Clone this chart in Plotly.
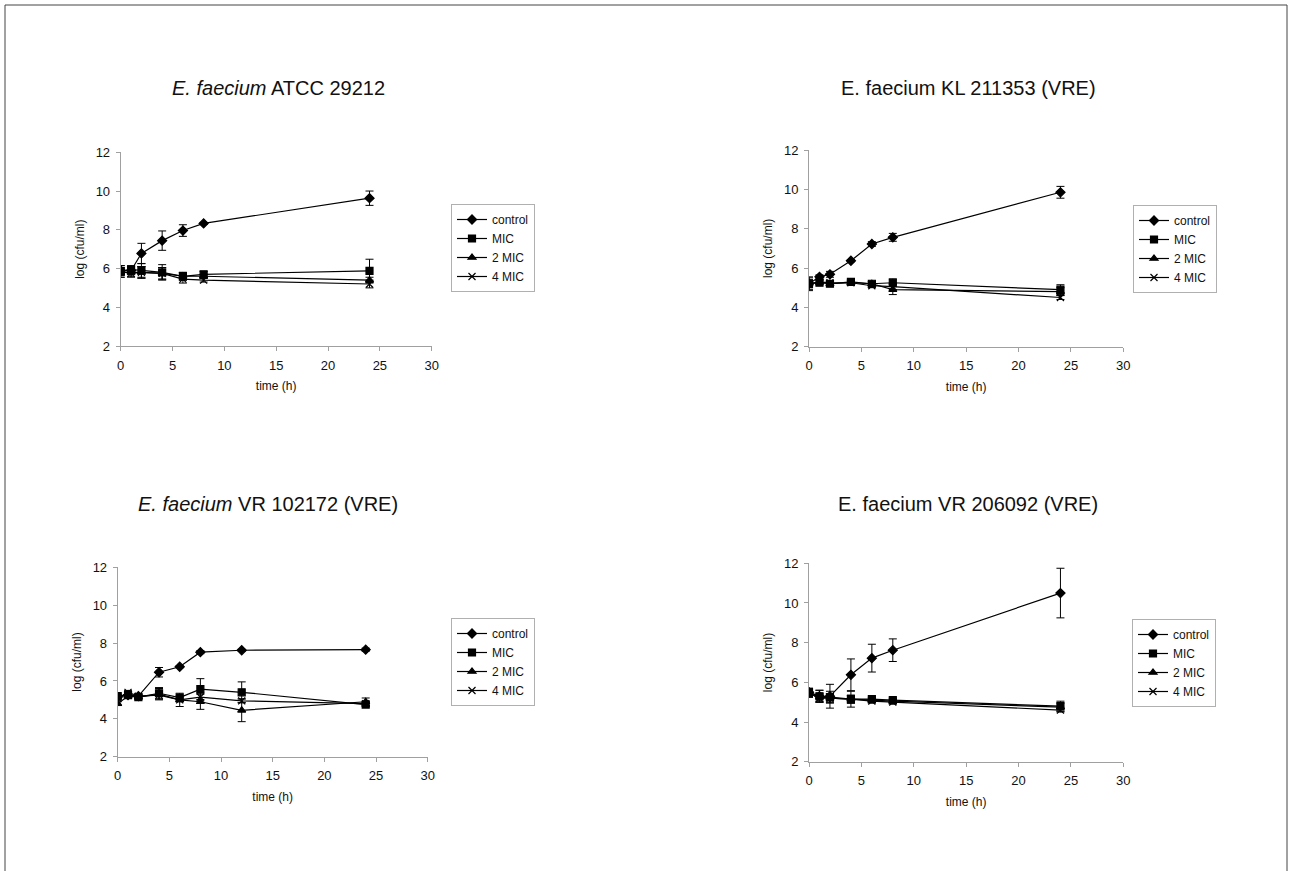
import plotly.graph_objects as go

W, H = 1291, 871

series_names = ["control", "MIC", "2 MIC", "4 MIC"]
symbols = ["diamond", "square", "triangle-up", "x-thin"]
marker_sizes = [7, 7, 7, 7]

titles = [
    "<i>E. faecium</i> ATCC 29212",
    "E. faecium KL 211353 (VRE)",
    "<i>E. faecium</i> VR 102172 (VRE)",
    "E. faecium VR 206092 (VRE)",
]

# Panel 1: E. faecium ATCC 29212
t1 = [0, 1, 2, 4, 6, 8, 24]
p1_control = [5.9, 5.9, 6.78, 7.44, 7.96, 8.33, 9.63]
p1_control_err = [0.25, 0.2, 0.52, 0.5, 0.3, 0.05, 0.37]
p1_mic = [5.85, 5.95, 5.9, 5.8, 5.6, 5.7, 5.88]
p1_mic_err = [0.3, 0.2, 0.35, 0.4, 0.2, 0.15, 0.6]
p1_2mic = [5.8, 5.8, 5.8, 5.75, 5.6, 5.6, 5.4]
p1_2mic_err = [0.25, 0.2, 0.3, 0.3, 0.2, 0.1, 0.15]
p1_4mic = [5.85, 5.75, 5.8, 5.75, 5.45, 5.4, 5.2]
p1_4mic_err = [0.2, 0.2, 0.3, 0.3, 0.2, 0.1, 0.2]

# Panel 2: E. faecium KL 211353 (VRE)
t2 = [0, 1, 2, 4, 6, 8, 24]
p2_control = [5.2, 5.55, 5.68, 6.37, 7.22, 7.56, 9.85]
p2_control_err = [0.35, 0.1, 0.15, 0.05, 0.12, 0.2, 0.3]
p2_mic = [5.2, 5.25, 5.2, 5.3, 5.2, 5.25, 4.9]
p2_mic_err = [0.3, 0.1, 0.1, 0.1, 0.1, 0.2, 0.25]
p2_2mic = [5.2, 5.3, 5.2, 5.25, 5.2, 4.9, 4.8]
p2_2mic_err = [0.2, 0.1, 0.1, 0.1, 0.1, 0.25, 0.2]
p2_4mic = [5.2, 5.3, 5.25, 5.25, 5.1, 5.05, 4.5]
p2_4mic_err = [0.2, 0.1, 0.1, 0.1, 0.1, 0.15, 0.1]

# Panel 3: E. faecium VR 102172 (VRE)
t3 = [0, 1, 2, 4, 6, 8, 12, 24]
p3_control = [5.15, 5.25, 5.2, 6.46, 6.75, 7.52, 7.62, 7.65]
p3_control_err = [0.1, 0.1, 0.1, 0.25, 0.05, 0.08, 0.05, 0.08]
p3_mic = [5.2, 5.25, 5.15, 5.35, 5.12, 5.57, 5.4, 4.75]
p3_mic_err = [0.1, 0.1, 0.1, 0.3, 0.1, 0.55, 0.55, 0.1]
p3_2mic = [4.8, 5.2, 5.15, 5.3, 5.0, 4.9, 4.45, 4.9]
p3_2mic_err = [0.1, 0.1, 0.1, 0.3, 0.35, 0.4, 0.6, 0.2]
p3_4mic = [5.1, 5.4, 5.2, 5.25, 5.0, 5.15, 4.95, 4.8]
p3_4mic_err = [0.1, 0.1, 0.1, 0.2, 0.1, 0.2, 0.1, 0.1]

# Panel 4: E. faecium VR 206092 (VRE)
t4 = [0, 1, 2, 4, 6, 8, 24]
p4_control = [5.5, 5.3, 5.3, 6.38, 7.22, 7.62, 10.5]
p4_control_err = [0.2, 0.3, 0.6, 0.8, 0.7, 0.57, 1.25]
p4_mic = [5.5, 5.3, 5.25, 5.15, 5.15, 5.1, 4.8]
p4_mic_err = [0.2, 0.3, 0.3, 0.4, 0.1, 0.1, 0.25]
p4_2mic = [5.45, 5.25, 5.2, 5.15, 5.1, 5.05, 4.75]
p4_2mic_err = [0.2, 0.2, 0.2, 0.2, 0.1, 0.1, 0.2]
p4_4mic = [5.45, 5.2, 5.2, 5.15, 5.05, 5.0, 4.6]
p4_4mic_err = [0.2, 0.2, 0.2, 0.2, 0.1, 0.1, 0.1]

x_ticks = [0, 5, 10, 15, 20, 25, 30]
y_ticks = [2, 4, 6, 8, 10, 12]

panels = [
    (t1, [(p1_control, p1_control_err), (p1_mic, p1_mic_err), (p1_2mic, p1_2mic_err), (p1_4mic, p1_4mic_err)]),
    (t2, [(p2_control, p2_control_err), (p2_mic, p2_mic_err), (p2_2mic, p2_2mic_err), (p2_4mic, p2_4mic_err)]),
    (t3, [(p3_control, p3_control_err), (p3_mic, p3_mic_err), (p3_2mic, p3_2mic_err), (p3_4mic, p3_4mic_err)]),
    (t4, [(p4_control, p4_control_err), (p4_mic, p4_mic_err), (p4_2mic, p4_2mic_err), (p4_4mic, p4_4mic_err)]),
]

# plot-area pixel boxes (left, right, top, bottom)
boxes = [
    (120.7, 431.7, 152.3, 346.0),
    (809.0, 1123.3, 150.0, 346.7),
    (117.7, 427.7, 567.3, 756.7),
    (809.0, 1123.3, 563.3, 761.7),
]
legend_pos = [(451, 204), (1133, 205), (451, 618), (1132, 619)]
title_pos = [(278, 88), (968, 88), (268, 504), (968, 504)]

FONT = "Liberation Sans, Arial, sans-serif"

fig = go.Figure()
layout = dict(
    width=W, height=H,
    margin=dict(l=0, r=0, t=0, b=0),
    paper_bgcolor="white", plot_bgcolor="white",
    font=dict(family=FONT, size=12, color="#111"),
    showlegend=True,
)
annotations = []

for i, (t, data) in enumerate(panels):
    k = i + 1
    xa = "x" if k == 1 else f"x{k}"
    ya = "y" if k == 1 else f"y{k}"
    lg = "legend" if k == 1 else f"legend{k}"
    for j, (vals, errs) in enumerate(data):
        fig.add_trace(go.Scatter(
            x=t, y=vals, name=series_names[j], mode="lines+markers",
            xaxis=xa, yaxis=ya, legend=lg,
            line=dict(color="black", width=1.2),
            marker=dict(symbol=symbols[j], size=marker_sizes[j], color="black",
                        line=dict(color="black", width=1.2)),
            error_y=dict(type="data", array=errs, visible=True, color="black",
                         thickness=1, width=4),
        ))
    l, r, tp, b = boxes[i]
    axis_common = dict(
        showgrid=False, zeroline=False, showline=True, linecolor="#a0a0a0",
        linewidth=1, ticks="outside", ticklen=4, tickcolor="#a0a0a0",
        tickfont=dict(family=FONT, size=13, color="#111"),
        automargin=False,
    )
    layout["xaxis" if k == 1 else f"xaxis{k}"] = dict(
        axis_common, domain=[l / W, r / W], range=[0, 30], tickvals=x_ticks,
        anchor=ya, ticklabelstandoff=3,
        title=dict(text="time (h)", font=dict(size=12), standoff=10),
    )
    layout["yaxis" if k == 1 else f"yaxis{k}"] = dict(
        axis_common, domain=[1 - b / H, 1 - tp / H], range=[2, 12], tickvals=y_ticks,
        anchor=xa, ticklabelstandoff=3,
        title=dict(text="log (cfu/ml)", font=dict(size=12), standoff=8),
    )
    lx, ly = legend_pos[i]
    layout[lg] = dict(
        x=lx / W, y=1 - ly / H, xanchor="left", yanchor="top",
        bordercolor="#b0b0b0", borderwidth=1, bgcolor="white",
        font=dict(family=FONT, size=12, color="#111"),
        itemwidth=30, tracegroupgap=0,
    )
    tx, ty = title_pos[i]
    annotations.append(dict(
        text=titles[i], x=tx / W, y=1 - ty / H, xref="paper", yref="paper",
        xanchor="center", yanchor="middle", showarrow=False,
        font=dict(family=FONT, size=20, color="#111"),
    ))

layout["annotations"] = annotations
layout["shapes"] = [dict(
    type="rect", xref="paper", yref="paper",
    x0=5 / W, x1=1287 / W, y0=-0.02, y1=1 - 5 / H,
    line=dict(color="#444", width=1), fillcolor="rgba(0,0,0,0)",
)]
fig.update_layout(**layout)
fig.write_html("out.html", post_script="document.body.style.margin='0';")
